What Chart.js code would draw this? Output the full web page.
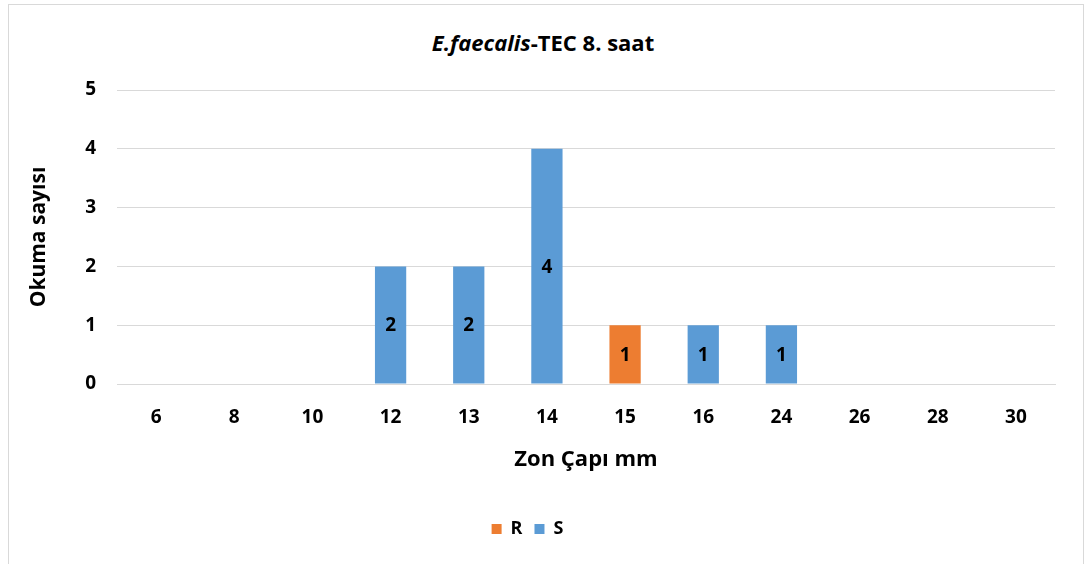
<!DOCTYPE html>
<html lang="tr">
<head>
  <meta charset="UTF-8">
  <title>E.faecalis-TEC 8. saat</title>
  <script src="https://cdn.jsdelivr.net/npm/chart.js"></script>
  <style>
    html, body { margin: 0; padding: 0; background: #fff; }
    body { width: 1086px; height: 564px; position: relative; overflow: hidden; font-family: "Open Sans", Lato, sans-serif; }
    .frame { position: absolute; left: 8px; top: 4px; width: 1074px; height: 600px; border: 1px solid #d9d9d9; }
    .titulo { position: absolute; left: 0; width: 1086px; top: 27px; text-align: center; font-weight: bold; font-size: 22px; color: #000; }
    #grafico { position: absolute; left: 0; top: 0; }
  </style>
</head>
<body>
  <div class="frame"></div>
  <div class="titulo"><i>E.faecalis</i>-TEC 8. saat</div>
  <canvas id="grafico" width="1086" height="564"></canvas>

  <script>
    // datos
    const categorias = ['6', '8', '10', '12', '13', '14', '15', '16', '24', '26', '28', '30'];
    const valoresR = [0, 0, 0, 0, 0, 0, 1, 0, 0, 0, 0, 0];
    const valoresS = [0, 0, 0, 2, 2, 4, 0, 1, 1, 0, 0, 0];
    const ticksY = [0, 1, 2, 3, 4, 5];

    const fuente = '"Open Sans", Lato, sans-serif';

    // etiquetas dentro de las barras
    const etiquetas = {
      id: 'etiquetas',
      afterDatasetsDraw(chart) {
        const ctx = chart.ctx;
        ctx.save();
        ctx.font = 'bold 19px ' + fuente;
        ctx.fillStyle = '#000';
        ctx.textAlign = 'center';
        ctx.textBaseline = 'middle';
        chart.data.datasets.forEach((ds, i) => {
          chart.getDatasetMeta(i).data.forEach((bar, j) => {
            const v = ds.data[j];
            if (!v) return;
            ctx.fillText(String(v), bar.x, (bar.y + bar.base) / 2 + 1);
          });
        });
        ctx.restore();
      }
    };

    const ctx = document.getElementById('grafico').getContext('2d');
    new Chart(ctx, {
      type: 'bar',
      data: {
        labels: categorias,
        datasets: [
          { label: 'R', data: valoresR, backgroundColor: '#ED7D31', barPercentage: 0.4, categoryPercentage: 1 },
          { label: 'S', data: valoresS, backgroundColor: '#5B9BD5', barPercentage: 0.4, categoryPercentage: 1 }
        ]
      },
      options: {
        responsive: false,
        animation: false,
        layout: { padding: { top: 90, right: 31, bottom: 16, left: 0 } },
        plugins: {
          legend: {
            position: 'bottom',
            labels: {
              boxWidth: 10, boxHeight: 10, padding: 12,
              color: '#000',
              font: { family: fuente, size: 18, weight: 'bold' }
            }
          },
          tooltip: { enabled: false },
          title: { display: false }
        },
        scales: {
          x: {
            stacked: true,
            grid: { display: false, drawTicks: false },
            border: { color: '#d9d9d9' },
            ticks: { color: '#000', padding: 22, font: { family: fuente, size: 19, weight: 'bold' } },
            title: { display: true, text: 'Zon Çapı mm', color: '#000', padding: { top: 10, bottom: 35 }, font: { family: fuente, size: 22, weight: 'bold' } },
            afterFit(scale) { scale.height = 124; }
          },
          y: {
            stacked: true,
            min: 0, max: 5,
            afterBuildTicks(scale) { scale.ticks = ticksY.map(v => ({ value: v })); },
            grid: { color: '#d9d9d9', lineWidth: 1, drawTicks: false },
            border: { display: false },
            ticks: { color: '#000', padding: 21, font: { family: fuente, size: 19, weight: 'bold' } },
            title: { display: true, text: 'Okuma sayısı', color: '#000', padding: { top: 26, bottom: 10 }, font: { family: fuente, size: 21, weight: 'bold' } },
            afterFit(scale) { scale.width = 117; }
          }
        }
      },
      plugins: [etiquetas]
    });
  </script>
</body>
</html>
